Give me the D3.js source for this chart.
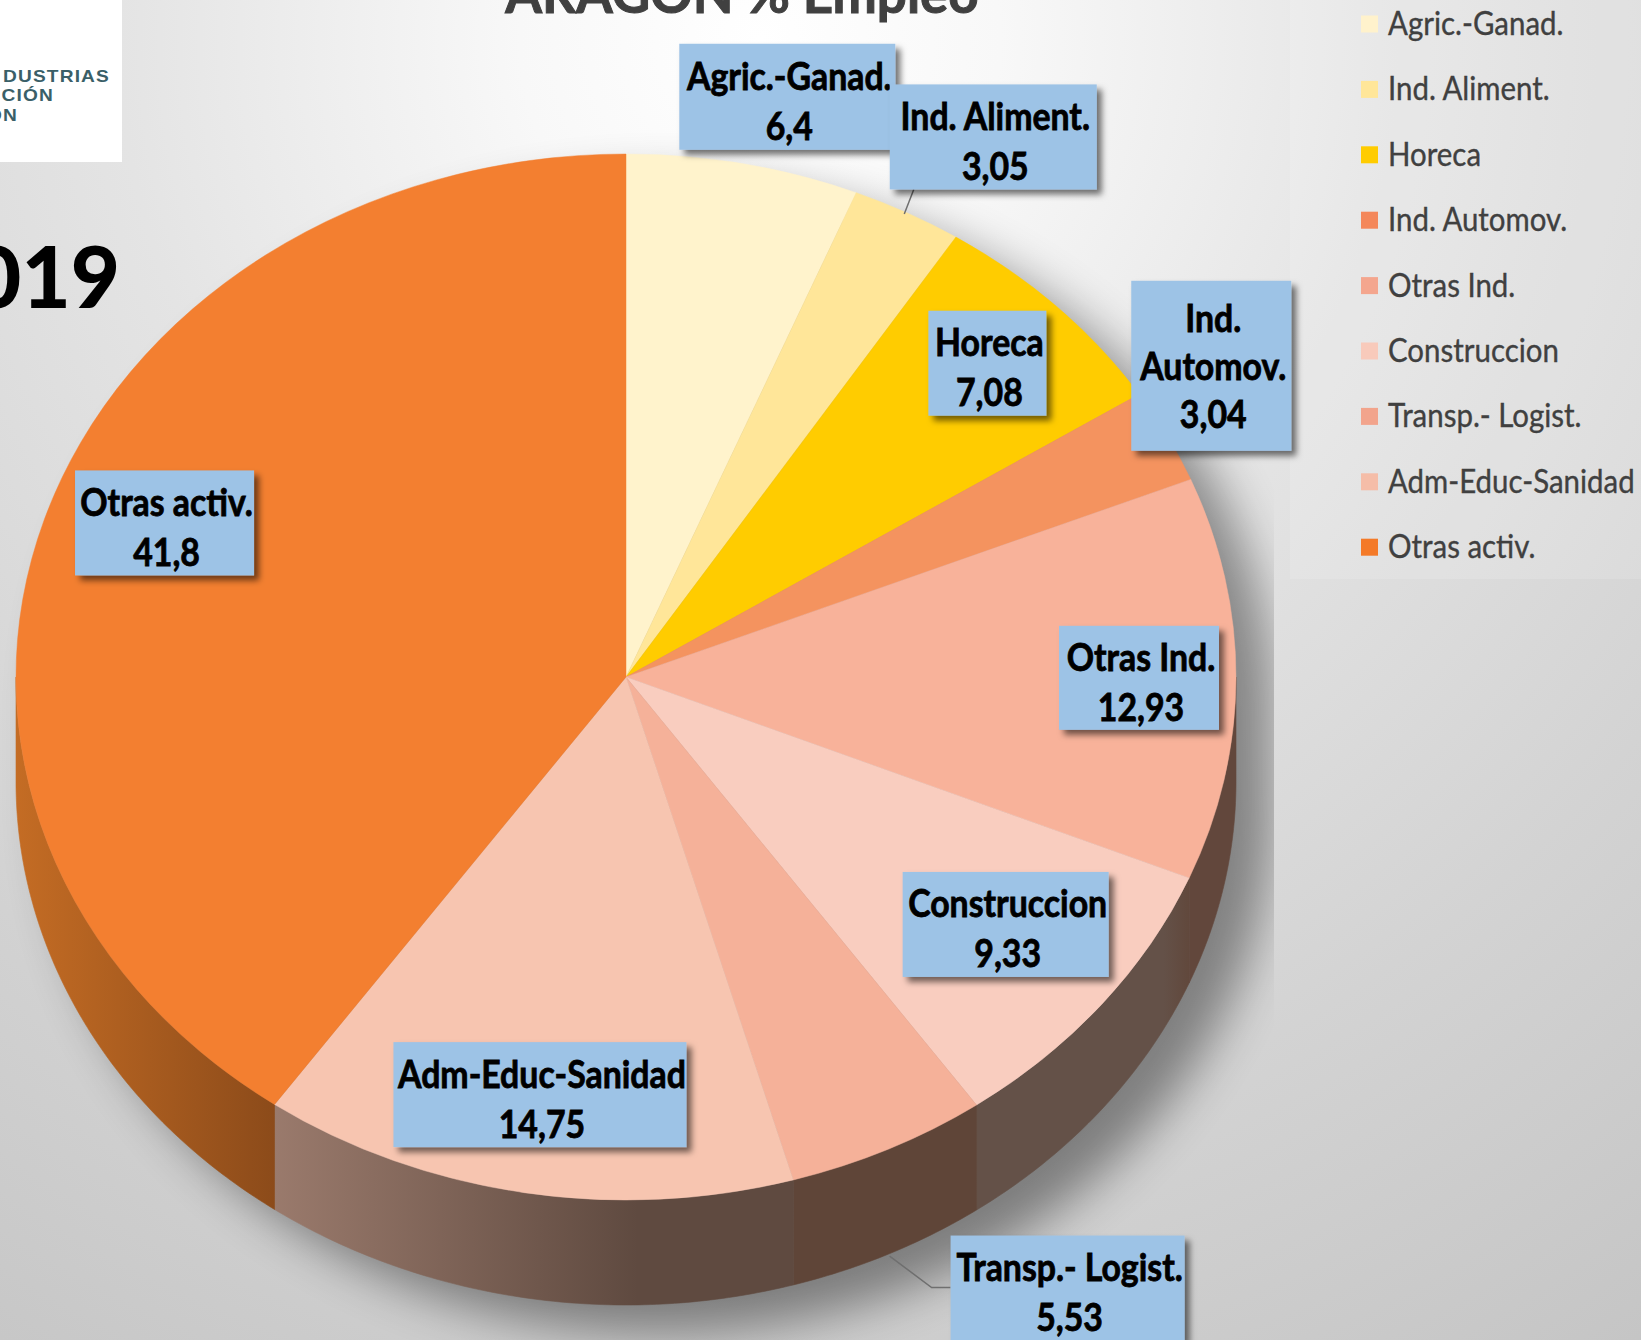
<!DOCTYPE html>
<html><head><meta charset="utf-8"><style>html,body{margin:0;padding:0;overflow:hidden;background:#ddd}svg{display:block}</style>
<script src="https://cdn.jsdelivr.net/npm/d3@7"></script></head><body><svg id="c" width="1641" height="1340"></svg>
<script>
const categories=["Agric.-Ganad.","Ind. Aliment.","Horeca","Ind. Automov.","Otras Ind.","Construccion","Transp.- Logist.","Adm-Educ-Sanidad","Otras activ."];
const values=[6.4,3.05,7.08,3.04,12.93,9.33,5.53,14.75,41.8];
const valueLabels=["6,4","3,05","7,08","3,04","12,93","9,33","5,53","14,75","41,8"];
const topColors=["#fff3cc","#ffe699","#ffcc00","#f4935f","#f8b29a","#f9cdbf","#f5b199","#f7c5b0","#f37f30"];
const legendColors=["#fff2cc","#ffe699","#ffcc00","#f4875a","#f4a68e","#f8cabb","#f2a48c","#f5bda8","#f47a28"];
// side wall colours: [at slice start, at slice end, share of the run where the end colour is reached]
const sideStops=[null,null,null,null,["#62473c","#62473c",1],["#61483c","#645148",.12],["#5f4538","#5f4538",1],["#5f4a40","#9a7a6c",1],["#8c4b1a","#c46c24",1]];
const title="ARAGON % Empleo";
const W=1641,H=1340,cx=626,cy=677,rx=610,ry=523,depth=105,plotRight=1274;
const font="Lato,sans-serif";
// label placement: box size and nudge from the slice's rim point at mid-angle
const labelBoxes=[[216,106,44,-67],[207,105,86,-76],[118,105,-70,56],[160,170,44,-70],[160,104,-97,-1],[206,105,-96,-80],[234,105,179,139],[293,105,16,-98],[179,105,120,4]];
const svg=d3.select("#c"),defs=svg.append("defs");
const bg=defs.append("radialGradient").attr("id","bg").attr("gradientUnits","userSpaceOnUse").attr("cx",760).attr("cy",40).attr("r",1600);
[[0,"#ffffff"],[.15,"#f8f8f8"],[.4,"#e4e4e4"],[.7,"#d3d3d3"],[1,"#c4c4c4"]].forEach(s=>bg.append("stop").attr("offset",s[0]).attr("stop-color",s[1]));
const f=defs.append("filter").attr("id","sh").attr("x","-10%").attr("y","-10%").attr("width","125%").attr("height","125%");
f.append("feDropShadow").attr("dx",5).attr("dy",5).attr("stdDeviation",3).attr("flood-color","#000").attr("flood-opacity",.55);
defs.append("filter").attr("id","blur").attr("x","-20%").attr("y","-20%").attr("width","140%").attr("height","140%").append("feGaussianBlur").attr("stdDeviation",24);
defs.append("clipPath").attr("id","plotClip").append("rect").attr("width",plotRight).attr("height",H);
svg.append("rect").attr("width",W).attr("height",H).attr("fill","url(#bg)");
// soft shadow of the whole pie, cut at the plot area
svg.append("g").attr("clip-path","url(#plotClip)").append("path")
  .attr("d",`M${cx-rx},${cy}A${rx},${ry} 0 0 1 ${cx+rx},${cy}L${cx+rx},${cy+depth}A${rx},${ry} 0 0 1 ${cx-rx},${cy+depth}Z`)
  .attr("transform","translate(36,28)").attr("fill","#000").attr("opacity",.4).attr("filter","url(#blur)");
svg.append("rect").attr("x",1290).attr("y",0).attr("width",351).attr("height",579).attr("fill","#fff").attr("opacity",.14);
// logo
svg.append("rect").attr("width",122).attr("height",162).attr("fill","#fff");
const logo=svg.append("g").attr("fill","#3a5f68").attr("font-family","'Liberation Sans',sans-serif").attr("font-weight",700).attr("font-size",16.5).attr("text-anchor","end").attr("letter-spacing",1);
[["DUSTRIAS",82,110],["CIÓN",101,54],["ON",121,18]].forEach(d=>logo.append("text").attr("transform",`translate(${d[2]},${d[1]}) scale(1.16,1)`).text(d[0]));
svg.append("text").attr("x",120).attr("y",308).attr("text-anchor","end").attr("font-family",font).attr("font-weight",900).attr("font-size",85).attr("fill","#000").text("2019");
svg.append("text").attr("transform","translate(742,13) scale(.98,1)").attr("text-anchor","middle").attr("font-family",font).attr("font-weight",700).attr("font-size",54).attr("fill","#404040").attr("stroke","#404040").attr("stroke-width",1).text(title);
const pie=d3.pie().sort(null).value(d=>d)(values);
const arc=d3.arc().innerRadius(0).outerRadius(rx);
const pt=(a,k=1)=>[cx+rx*k*Math.sin(a),cy-ry*k*Math.cos(a)];
const g=svg.append("g");
// side wall, only the part of each slice facing the viewer
pie.forEach((d,i)=>{
  const a0=Math.max(d.startAngle,Math.PI/2),a1=Math.min(d.endAngle,3*Math.PI/2);
  if(a1<=a0)return;
  const n=Math.ceil((a1-a0)/.01)+1,as=d3.range(n).map(j=>a0+(a1-a0)*j/(n-1));
  const ln=d3.line();
  const top=as.map(a=>pt(a));
  const bot=as.slice().reverse().map(a=>{const p=pt(a);return[p[0],p[1]+depth]});
  const id="side"+i,p0=top[0],p1=top[n-1];
  const lg=defs.append("linearGradient").attr("id",id).attr("gradientUnits","userSpaceOnUse").attr("x1",p0[0]).attr("x2",p1[0]).attr("y1",0).attr("y2",0);
  const s=sideStops[i];
  lg.append("stop").attr("offset",0).attr("stop-color",s[0]);
  if(i===7)lg.append("stop").attr("offset",.3).attr("stop-color",s[0]);
  lg.append("stop").attr("offset",s[2]).attr("stop-color",s[1]);
  lg.append("stop").attr("offset",1).attr("stop-color",s[1]);
  g.append("path").attr("d",ln(top.concat(bot))+"Z").attr("fill",`url(#${id})`).attr("stroke",`url(#${id})`).attr("stroke-width",.6);
});
// top face
g.append("g").attr("transform",`translate(${cx},${cy}) scale(1,${ry/rx})`).selectAll("path").data(pie).join("path").attr("d",arc).attr("fill",(d,i)=>topColors[i]).attr("stroke",(d,i)=>topColors[i]).attr("stroke-width",.5);
// leader lines
const leader=d3.line();
function labelRect(i){const d=pie[i],m=(d.startAngle+d.endAngle)/2,p=pt(m),b=labelBoxes[i],c=[p[0]+b[2],p[1]+b[3]];return{x:c[0]-b[0]/2,y:c[1]-b[1]/2,w:b[0],h:b[1],cx:c[0],cy:c[1],rim:p};}
[1,6].forEach(i=>{
  const r=labelRect(i);
  const path=i==1?[[r.x+24,r.y+r.h],r.rim.map((v,k)=>k?v+1:v-3)]:[[r.x,r.y+52],[r.x-19,r.y+52],[r.rim[0]+1,r.rim[1]+105+2]];
  svg.append("path").attr("d",leader(path)).attr("fill","none").attr("stroke","#6f6f6f").attr("stroke-width",1.5);
});
// labels
const lab=svg.append("g").selectAll("g").data(pie).join("g");
lab.append("rect").attr("filter","url(#sh)").attr("fill","#9dc3e6").attr("x",(d,i)=>labelRect(i).x).attr("y",(d,i)=>labelRect(i).y).attr("width",(d,i)=>labelRect(i).w).attr("height",(d,i)=>labelRect(i).h);
lab.each(function(d,i){
  const r=labelRect(i),s=d3.select(this);
  const lines=i==3?["Ind.","Automov.",valueLabels[i]]:[categories[i],valueLabels[i]];
  const step=i==3?48:50,y0=r.cy-step*(lines.length-1)/2+(i==3?14:18);
  lines.forEach((t,k)=>s.append("text").attr("transform",`translate(${r.cx+2},${y0+k*step}) scale(.89,1)`).attr("text-anchor","middle").attr("font-family",font).attr("font-weight",700).attr("font-size",38).attr("fill","#000").attr("stroke","#000").attr("stroke-width",.8).text(t));
});
// legend
const lg=svg.append("g").selectAll("g").data(categories).join("g").attr("transform",(d,i)=>`translate(0,${24+65.4*i})`);
lg.append("rect").attr("x",1361).attr("y",-8.5).attr("width",17).attr("height",17).attr("fill",(d,i)=>legendColors[i]);
lg.append("text").attr("transform","translate(1388,11) scale(.92,1)").attr("font-family",font).attr("font-size",32).attr("fill","#404040").attr("stroke","#404040").attr("stroke-width",.35).text(d=>d);
</script></body></html>
